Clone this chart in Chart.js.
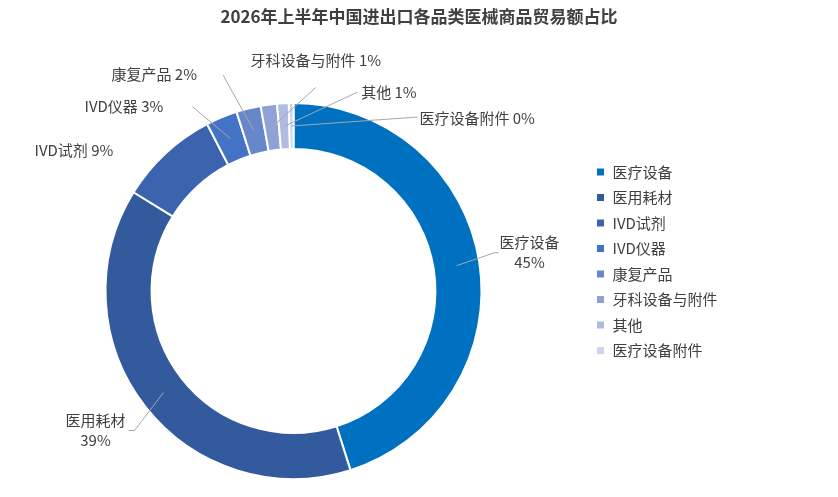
<!DOCTYPE html>
<html>
<head>
<meta charset="utf-8">
<script src="https://cdn.jsdelivr.net/npm/chart.js@4"></script>
<style>
  body { margin: 0; background: #fff; }
  #wrap { width: 838px; height: 497px; position: relative; }
</style>
</head>
<body>
<div id="wrap"><canvas id="shareChart"></canvas></div>
<script>
// data (share of trade value, %)
const categories = ["医疗设备", "医用耗材", "IVD试剂", "IVD仪器", "康复产品", "牙科设备与附件", "其他", "医疗设备附件"];
const shares = [45.1, 38.7, 8.6, 2.7, 2.1, 1.4, 1.0, 0.4];
const sliceColors = ["#0070C0", "#345A9E", "#3C64AE", "#4472C4", "#6787CB", "#8EA2D6", "#AFBBE1", "#CDD3EC"];
const chartTitle = "2026年上半年中国进出口各品类医械商品贸易额占比";

const textColor = "#404040";
const fontFamily = '"Noto Sans CJK SC", "Noto Sans", sans-serif';

// where each label sits, relative to the middle of its slice
const labelLayout = [
  { dx: 38, dy: -13, tail: 4, line: true, twoLines: true, align: "center", tx: 35, ty: 0 },
  { dx: -29, dy: 38, tail: -6, line: true, twoLines: true, align: "center", tx: -39, ty: 0 },
  { dx: -68, dy: -20, tail: 0, line: false, twoLines: false, align: "right", tx: 0, ty: 0 },
  { dx: -38, dy: -32, tail: 0, line: true, twoLines: false, align: "right", tx: -29, ty: 0 },
  { dx: -31, dy: -56, tail: 0, line: true, twoLines: false, align: "right", tx: -26, ty: -1 },
  { dx: 44, dy: -40, tail: 0, line: true, twoLines: false, align: "center", tx: 0, ty: -27 },
  { dx: 73, dy: -34, tail: 0, line: true, twoLines: false, align: "left", tx: 4, ty: 0 },
  { dx: 126, dy: -9, tail: 0, line: true, twoLines: false, align: "left", tx: 2, ty: 1 },
];

const sliceLabels = {
  id: "sliceLabels",
  afterDatasetsDraw(chart) {
    const ctx = chart.ctx;
    const meta = chart.getDatasetMeta(0);
    const total = shares.reduce((a, b) => a + b, 0);
    ctx.save();
    ctx.font = "15px " + fontFamily;
    ctx.fillStyle = textColor;
    ctx.strokeStyle = "#A6A6A6";
    ctx.lineWidth = 1;
    ctx.textBaseline = "middle";
    meta.data.forEach((arc, i) => {
      const p = arc.getProps(["x", "y", "startAngle", "endAngle", "innerRadius", "outerRadius"], true);
      const mid = (p.startAngle + p.endAngle) / 2;
      const r = (p.innerRadius + p.outerRadius) / 2;
      const ax = p.x + Math.cos(mid) * r;
      const ay = p.y + Math.sin(mid) * r;
      const lay = labelLayout[i];
      const ex = ax + lay.dx;
      const ey = ay + lay.dy;
      if (lay.line) {
        ctx.beginPath();
        ctx.moveTo(ax, ay);
        ctx.lineTo(ex, ey);
        if (lay.tail) ctx.lineTo(ex + lay.tail, ey);
        ctx.stroke();
      }
      const pct = Math.round(shares[i] / total * 100) + "%";
      ctx.textAlign = lay.align;
      const tx = ex + lay.tx;
      const ty = ey + lay.ty;
      if (lay.twoLines) {
        ctx.fillText(categories[i], tx, ty - 10);
        ctx.fillText(pct, tx, ty + 10);
      } else {
        ctx.fillText(categories[i] + " " + pct, tx, ty);
      }
    });
    ctx.restore();
  }
};

// widen the legend box so the doughnut and legend sit where they do in the original
const legendWidth = 251;
const legendFit = {
  id: "legendFit",
  beforeInit(chart) {
    const originalFit = chart.legend.fit;
    chart.legend.fit = function fit() {
      originalFit.bind(chart.legend)();
      this.width = legendWidth;
    };
  }
};

const shareChart = new Chart(document.getElementById("shareChart"), {
  type: "doughnut",
  data: {
    labels: categories,
    datasets: [{
      data: shares,
      backgroundColor: sliceColors,
      borderColor: "#FFFFFF",
      borderWidth: 2,
    }],
  },
  options: {
    responsive: true,
    maintainAspectRatio: false,
    animation: false,
    cutout: "75.5%",
    layout: {
      padding: { top: 0, bottom: 17, left: 1.5, right: 1.5 },
    },
    plugins: {
      title: {
        display: true,
        text: chartTitle,
        color: textColor,
        font: { family: fontFamily, size: 17, weight: "bold" },
        padding: { top: 6.8, bottom: 74.8 },
      },
      legend: {
        position: "right",
        align: "start",
        fullSize: false,
        title: {
          display: true,
          text: " ",
          font: { size: 10 },
          padding: { top: 40, bottom: 0 },
        },
        labels: {
          boxWidth: 9,
          boxHeight: 9,
          padding: 10.5,
          color: textColor,
          font: { family: fontFamily, size: 15 },
        },
      },
      tooltip: { enabled: false },
    },
  },
  plugins: [sliceLabels, legendFit],
});
</script>
</body>
</html>
